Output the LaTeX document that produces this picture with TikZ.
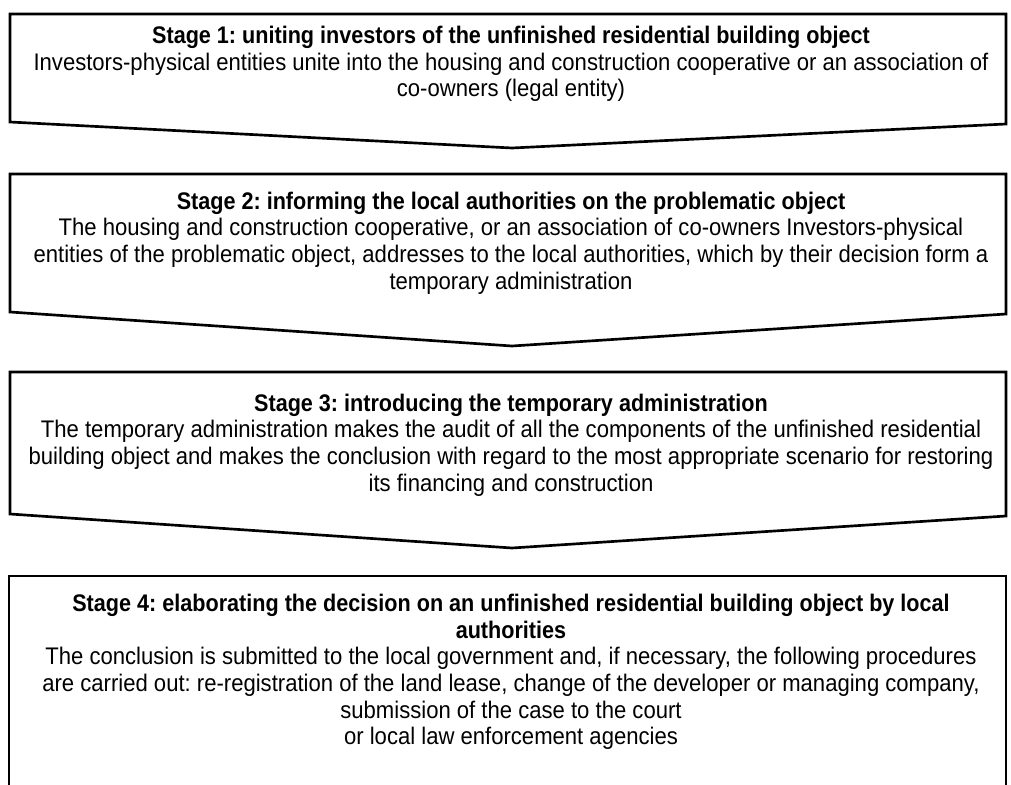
\documentclass[tikz,border=0pt]{standalone}
\usepackage{fontspec}
\setmainfont{Liberation Sans}[FakeStretch=0.92,BoldFeatures={FakeStretch=0.9}]
\usepackage{tikz}
\usetikzlibrary{positioning}
\tikzset{
    stagearrow/.style = {line width=2pt,draw=black,fill=white,line join=miter},
    stagetext/.style = {align=center,inner sep=0pt,font=\fontsize{18}{20}\selectfont},
}
\newcommand{\stagetitle}[1]{\textbf{#1}}
\frenchspacing

\begin{document}
\begin{tikzpicture}[x=0.75pt,y=-0.75pt]
\path[use as bounding box] (0,0) rectangle (1011,785);
%
\draw[stagearrow] (10,14) -- (1006,14) -- (1006,124) -- (512,148) -- (10,122) -- cycle;
\draw[stagearrow] (10,174) -- (1006,174) -- (1006,314) -- (512,346) -- (10,312) -- cycle;
\draw[stagearrow] (10,372) -- (1006,372) -- (1006,516) -- (512,548) -- (10,514) -- cycle;
\draw[stagearrow] (9,785) -- (9,576) -- (1006,576) -- (1006,785);
%
\node[stagetext] at (511,64) (s1) {\stagetitle{Stage 1: uniting investors of the unfinished residential building object}\\
Investors-physical entities unite into the housing and construction cooperative or an association of\\
co-owners (legal entity)};
\node[stagetext] at (511,243) (s2) {\stagetitle{Stage 2: informing the local authorities on the problematic object}\\
The housing and construction cooperative, or an association of co-owners Investors-physical\\
entities of the problematic object, addresses to the local authorities, which by their decision form a\\
temporary administration};
\node[stagetext] at (511,445) (s3) {\stagetitle{Stage 3: introducing the temporary administration}\\
The temporary administration makes the audit of all the components of the unfinished residential\\
building object and makes the conclusion with regard to the most appropriate scenario for restoring\\
its financing and construction};
\node[stagetext] at (511,672) (s4) {\stagetitle{Stage 4: elaborating the decision on an unfinished residential building object by local}\\
\stagetitle{authorities}\\
The conclusion is submitted to the local government and, if necessary, the following procedures\\
are carried out: re-registration of the land lease, change of the developer or managing company,\\
submission of the case to the court\\
or local law enforcement agencies};

\end{tikzpicture}
\end{document}
